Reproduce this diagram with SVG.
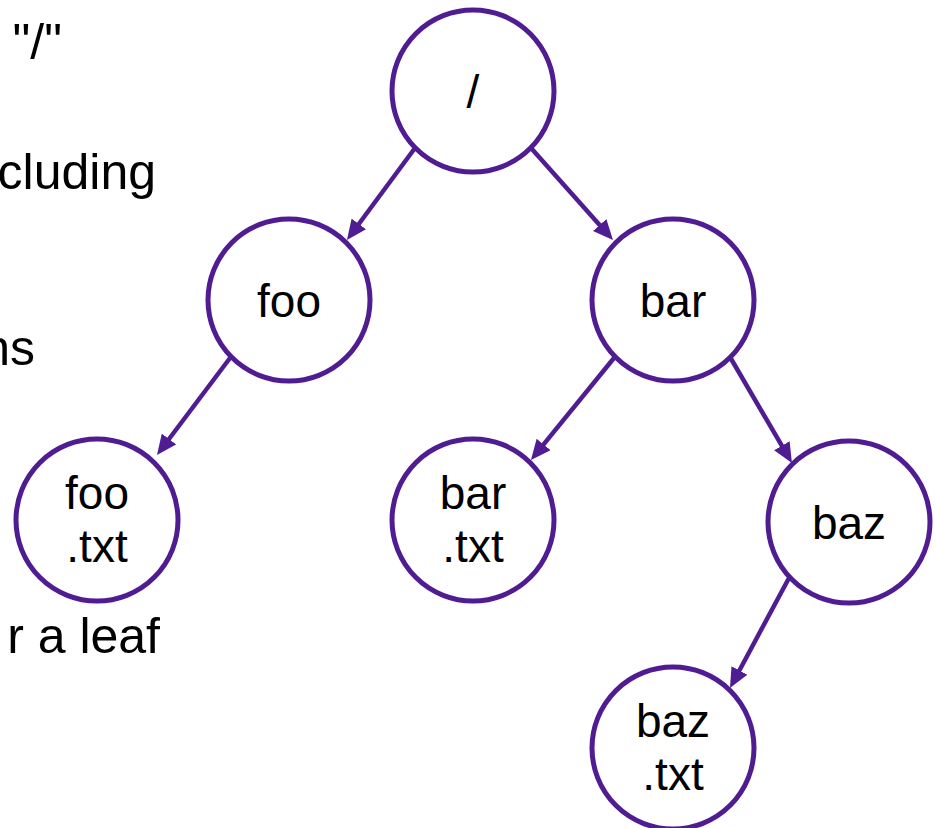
<svg xmlns="http://www.w3.org/2000/svg" width="936" height="828" viewBox="0 0 936 828">
<style>
.n{fill:#fff;stroke:#501C92;stroke-width:5}
.t{font-family:"Liberation Sans",Arial,sans-serif;font-size:46px;fill:#000;text-anchor:middle}
.s{font-family:"Liberation Sans",Arial,sans-serif;font-size:50px;fill:#000;text-anchor:end}
.e{stroke:#501C92;stroke-width:4.5;fill:none;marker-end:url(#ah)}
</style>
<defs>
<marker id="ah" markerUnits="userSpaceOnUse" markerWidth="20" markerHeight="18" viewBox="0 0 20 18" refX="10" refY="9" orient="auto">
<path d="M0,0 L20,9 L0,18 z" fill="#501C92"/>
</marker>
</defs>
<rect width="936" height="828" fill="#fff"/>
<g id="side-text">
<text class="s" x="62" y="59">"/"</text>
<text class="s" x="156" y="189">cluding</text>
<text class="s" x="35" y="365">ns</text>
<text class="s" x="160" y="653">r a leaf</text>
</g>
<g id="connectors">
<line class="e" x1="415" y1="148" x2="352.9" y2="232"/>
<line class="e" x1="531" y1="148" x2="606.3" y2="232.5"/>
<line class="e" x1="230" y1="358" x2="163" y2="447"/>
<line class="e" x1="614" y1="358" x2="537.3" y2="452.2"/>
<line class="e" x1="730" y1="357" x2="786.9" y2="454.4"/>
<line class="e" x1="789" y1="578" x2="734.7" y2="679.2"/>
</g>
<g id="root"><circle class="n" cx="473" cy="91" r="81"/><text class="t" x="473" y="108">/</text></g>
<g id="foo"><circle class="n" cx="289" cy="300" r="81"/><text class="t" x="289" y="317">foo</text></g>
<g id="bar"><circle class="n" cx="673" cy="300" r="81"/><text class="t" x="673" y="317">bar</text></g>
<g id="foo-txt"><circle class="n" cx="97" cy="520" r="81"/><text class="t" x="97" y="509">foo</text><text class="t" x="97" y="562">.txt</text></g>
<g id="bar-txt"><circle class="n" cx="473" cy="520" r="81"/><text class="t" x="473" y="509">bar</text><text class="t" x="473" y="562">.txt</text></g>
<g id="baz"><circle class="n" cx="849" cy="522" r="81"/><text class="t" x="849" y="539">baz</text></g>
<g id="baz-txt"><circle class="n" cx="673" cy="748" r="81"/><text class="t" x="673" y="737">baz</text><text class="t" x="673" y="790">.txt</text></g>
</svg>
